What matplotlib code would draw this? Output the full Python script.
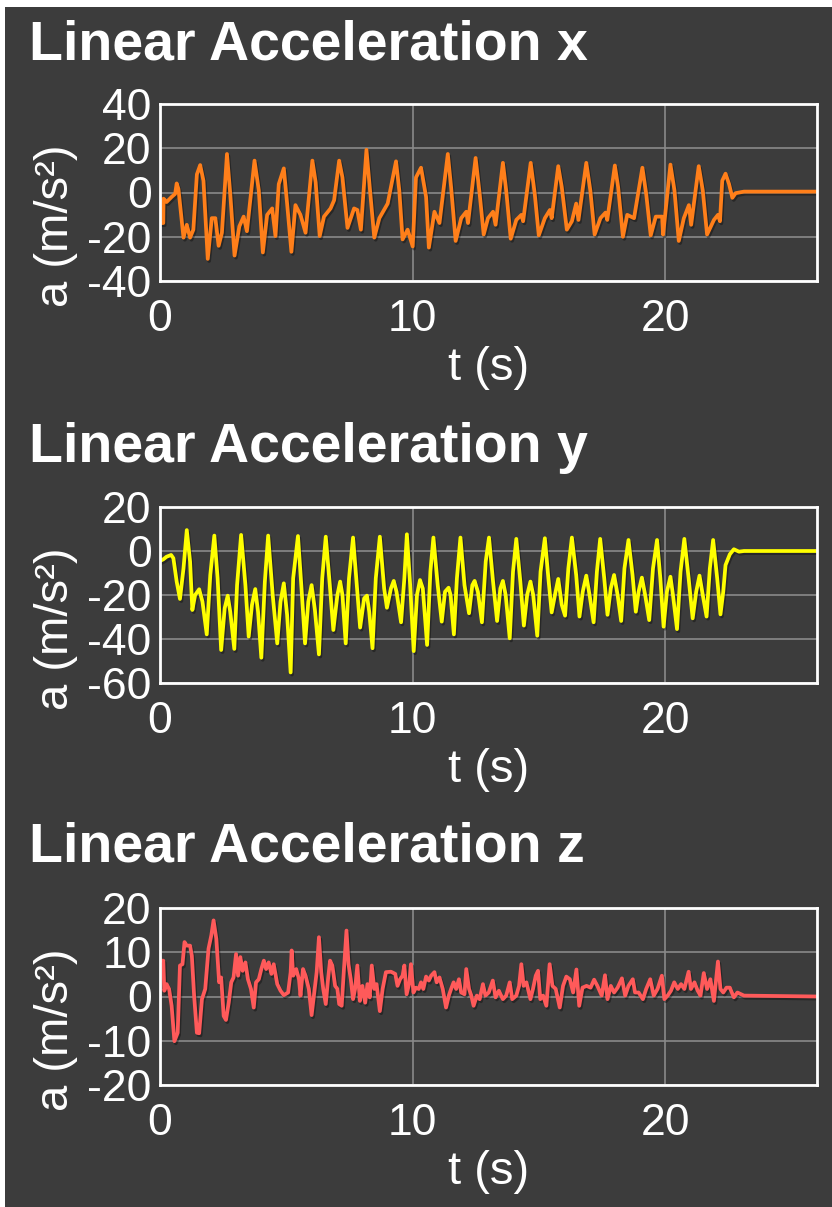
import matplotlib
matplotlib.use("Agg")
import matplotlib.pyplot as plt
import matplotlib.patheffects as pe
from matplotlib.patches import Rectangle

# values, (t in s, a in m/s^2)
t_x = [0, 0.13, 0.14, 0.26, 0.46, 0.6, 0.66, 0.73, 0.93, 1.06, 1.19, 1.32, 1.46, 1.59, 1.72, 1.89,
       2.05, 2.19, 2.32, 2.45, 2.65, 2.78, 2.95, 3.14, 3.31, 3.44, 3.74, 3.91, 4.07, 4.24, 4.44, 4.57,
       4.7, 4.9, 5.03, 5.2, 5.36, 5.56, 5.76, 6.03, 6.16, 6.32, 6.49, 6.75, 6.89, 7.09, 7.22, 7.42,
       7.68, 7.81, 7.95, 8.17, 8.3, 8.48, 8.68, 9.01, 9.34, 9.47, 9.6, 9.8, 10.0, 10.13, 10.33, 10.53,
       10.64, 10.86, 11.06, 11.39, 11.52, 11.7, 11.92, 12.12, 12.19, 12.49, 12.65, 12.81, 12.98, 13.18,
       13.28, 13.57, 13.7, 13.88, 14.1, 14.3, 14.37, 14.67, 14.83, 14.99, 15.23, 15.43, 15.5, 15.76,
       15.9, 16.1, 16.3, 16.47, 16.56, 16.87, 17.03, 17.2, 17.43, 17.63, 17.7, 18.0, 18.13, 18.32,
       18.49, 18.76, 19.09, 19.24, 19.42, 19.62, 19.87, 19.91, 20.2, 20.36, 20.53, 20.73, 20.93, 21.02,
       21.32, 21.48, 21.65, 21.92, 22.08, 22.16, 22.25, 22.38, 22.52, 22.65, 22.78, 23.11, 26.0]
a_x = [-13.8, -13.8, -2.8, -4.3, -2, -0.6, 4.1, 1.6, -20.4, -14.6, -20.4, -16.8, 8.2, 12.4, 5.3, -30,
       -11.6, -11.6, -24.1, -18.2, 17.4, -0.6, -28.5, -15.3, -10.9, -17.5, 14.4, 0.9, -27.1, -10.1, -7.2, -19.7,
       3.8, 10.9, -5, -26.8, -5.7, -10.1, -18.2, 14.4, 4.6, -19.7, -10.9, -7.2, -3.5, 14.4, 6.8, -16,
       -7.2, -7.9, -16.8, 19.3, 2.4, -20.4, -11.6, -5, 14.1, 0.9, -21.2, -16.8, -24.4, 6.8, 11.2, -2,
       -24.9, -8.7, -13.8, 17.4, 2.4, -21.9, -11.6, -8.7, -13.8, 15.6, -0.6, -19, -11.6, -8.7,
       -14.6, 13.4, 0.9, -20.9, -12.4, -10.1, -13, 13.4, -0.6, -19.4, -11.6, -7.9, -11.6, 11.9,
       2.4, -16.8, -13, -5, -12.4, 13.4, 0.9, -19, -11.6, -9.1, -12.4, 12.2, 2.4, -20,
       -10.1, -11.6, 11.2, -0.6, -19.4, -10.9, -10.9, -19, 12.6, 0.9, -21.9, -11.6, -5.7, -14.6,
       11.9, 0.9, -19, -12.4, -10.1, -13, 5.3, 8.5, 3.8, -2.4, -0.3, 0.4, 0.4]

t_y = [0, 0.13, 0.26, 0.44, 0.53, 0.66, 0.79, 0.93, 1.06, 1.19, 1.28, 1.39, 1.55, 1.68, 1.85, 1.99,
       2.15, 2.28, 2.42, 2.56, 2.68, 2.78, 2.94, 3.05, 3.21, 3.38, 3.51, 3.64, 3.77, 3.88, 4.01, 4.15,
       4.28, 4.46, 4.64, 4.77, 4.9, 5.03, 5.17, 5.27, 5.46, 5.6, 5.74, 5.87, 6.0, 6.13, 6.29, 6.42,
       6.56, 6.72, 6.86, 7.02, 7.13, 7.22, 7.35, 7.48, 7.64, 7.79, 7.92, 8.08, 8.19, 8.28, 8.41, 8.54,
       8.7, 8.87, 8.98, 9.14, 9.25, 9.36, 9.54, 9.67, 9.77, 9.9, 10.04, 10.17, 10.29, 10.4, 10.57, 10.7,
       10.82, 10.99, 11.15, 11.28, 11.42, 11.5, 11.63, 11.75, 11.89, 12.05, 12.23, 12.36, 12.45, 12.58,
       12.74, 12.89, 13.02, 13.18, 13.34, 13.47, 13.57, 13.68, 13.84, 13.97, 14.1, 14.26, 14.4, 14.53,
       14.66, 14.77, 14.93, 15.06, 15.23, 15.37, 15.5, 15.63, 15.76, 15.9, 16.03, 16.16, 16.3, 16.47,
       16.6, 16.73, 16.87, 17.0, 17.16, 17.29, 17.42, 17.58, 17.71, 17.84, 17.97, 18.11, 18.25, 18.38,
       18.54, 18.7, 18.83, 18.94, 19.07, 19.2, 19.36, 19.51, 19.67, 19.8, 19.93, 20.06, 20.2, 20.3,
       20.46, 20.6, 20.75, 20.92, 21.08, 21.22, 21.35, 21.48, 21.63, 21.76, 21.89, 22.05, 22.18, 22.29,
       22.38, 22.55, 22.71, 22.91, 23.11, 26.0]
a_y = [-4.5, -3.8, -2.6, -1.8, -3.3, -13.9, -21.8, -7.9, 9.5, -4.8, -26.8, -20, -17.4, -23, -37.9, -10.9,
       7, -12.4, -45, -26, -20.3, -27.6, -44.5, -15.5, 7.3, -15.5, -38.9, -24.5, -17.3, -27.6, -48.5, -13.9,
       7, -20, -42, -23, -14.7, -29, -55.2, -12.4, 6.8, -17, -42, -23, -15.5, -26.8, -47, -12.4,
       6.5, -15.5, -35.9, -20, -13.9, -20, -42, -12.4, 6.1, -15.5, -34.8, -21.5, -20.3, -27.6, -44.2, -12.4,
       6.5, -17, -25.8, -17, -13.6, -18.5, -32.4, -12.4, 7.6, -15.5, -45.5, -20, -13.2, -17, -42.7, -9.4,
       6.1, -15.5, -32.1, -18.5, -16.7, -20, -37.9, -12.4, 6.1, -15.5, -28.3, -15.5, -13.6, -18.5,
       -32.4, -4.8, 6.1, -13.9, -31.8, -17, -13.6, -20, -39.7, -9.4, 5.5, -13.9, -33.9, -20,
       -13.9, -20, -38.5, -9.4, 5.8, -12.4, -27.9, -20, -12.7, -24.5, -29.4, -7.9, 6.1, -10.9,
       -29.8, -18.5, -11.2, -20, -32.4, -9.4, 5.5, -12.4, -29, -17, -10.9, -20, -31.8, -7.9,
       5, -10.9, -27.6, -18.5, -12.1, -20, -31.4, -7.9, 5, -12.4, -34.4, -18.5, -11.7, -20,
       -35.5, -9.4, 5.5, -12.4, -30.6, -18.5, -11.2, -20, -29.8, -7.9, 5, -12.4, -28.8, -18.5,
       -6.4, -1.5, 0.8, -0.3, 0, 0]

t_z = [0, 0.13, 0.17, 0.26, 0.36, 0.46, 0.57, 0.7, 0.79, 0.89, 0.97, 1.06, 1.19, 1.26, 1.35, 1.46,
       1.55, 1.66, 1.79, 1.92, 2.03, 2.12, 2.23, 2.34, 2.42, 2.52, 2.61, 2.72, 2.82, 2.91, 3.01, 3.09,
       3.18, 3.27, 3.38, 3.48, 3.6, 3.71, 3.8, 3.91, 4.01, 4.11, 4.2, 4.3, 4.41, 4.5, 4.64, 4.77,
       4.9, 5.07, 5.17, 5.21, 5.27, 5.39, 5.5, 5.56, 5.66, 5.76, 5.89, 6.0, 6.12, 6.2, 6.29, 6.38,
       6.46, 6.56, 6.65, 6.73, 6.82, 6.93, 7.02, 7.09, 7.19, 7.28, 7.38, 7.46, 7.55, 7.64, 7.72, 7.81,
       7.91, 8.01, 8.12, 8.21, 8.3, 8.38, 8.48, 8.57, 8.7, 8.81, 8.94, 9.14, 9.31, 9.4, 9.5, 9.6,
       9.67, 9.76, 9.87, 9.93, 10.03, 10.13, 10.24, 10.33, 10.42, 10.53, 10.64, 10.73, 10.86, 10.95,
       11.06, 11.19, 11.32, 11.43, 11.52, 11.62, 11.72, 11.83, 11.92, 12.05, 12.12, 12.23, 12.32,
       12.41, 12.54, 12.65, 12.78, 12.88, 13.01, 13.17, 13.28, 13.41, 13.57, 13.7, 13.84, 13.94,
       14.1, 14.21, 14.3, 14.39, 14.5, 14.66, 14.76, 14.87, 14.96, 15.05, 15.16, 15.29, 15.42, 15.53,
       15.66, 15.82, 15.95, 16.08, 16.22, 16.35, 16.48, 16.59, 16.72, 16.88, 17.04, 17.18, 17.31,
       17.48, 17.61, 17.71, 17.84, 17.97, 18.11, 18.28, 18.41, 18.54, 18.71, 18.8, 18.94, 19.11,
       19.24, 19.4, 19.54, 19.69, 19.86, 19.96, 20.09, 20.22, 20.35, 20.49, 20.62, 20.75, 20.92,
       21.01, 21.15, 21.28, 21.39, 21.52, 21.65, 21.78, 21.92, 22.08, 22.18, 22.29, 22.42, 22.55,
       22.71, 22.85, 23.0, 23.11, 26.0]
a_z = [8.1, 8.1, 1.3, 2.8, 1.7, -2.1, -10.1, -8.2, 7, 7.3, 12.3, 11.5, 11.5, 9.2, 0.2, -8.2,
       -8.3, -0.6, 1.7, 10.8, 13.8, 17.2, 13, 3.2, 4.3, -4.4, -5.3, -1.4, 3.2, 4.3, 9.6, 4.7,
       8.9, 5.8, 7.7, 3.9, 1.7, -2.5, 3.2, 3.9, 6.2, 8.1, 6.2, 7.7, 5.1, 7.3, 2.8, 1.3,
       0.3, 0.9, 5.5, 10.4, 4.7, 6.2, 3.9, 0.2, 6.2, 4.7, 1.7, -4.2, 1.7, 5.5, 13.4, 5.5,
       1.7, -1.7, 3.9, 8.1, 7, 2.4, 1.7, -1.7, -2.1, 6.2, 14.9, 7.3, 3.9, -0.6, 1.7, 7,
       -1, 2.4, -1.4, 2.8, -0.2, 7, 1.7, 2.8, -3.3, 1.7, 5.5, 5.6, 5.1, 2.4, 3.9, 4.7,
       7, 0.5, 3.2, 7.3, 0.9, 2, 1.7, 3.2, 1.7, 4.5, 3.6, 4.7, 5.5, 3.2,
       4.3, 1.7, -2.5, 0.2, 1.7, 3.2, 1.7, 3.9, 0.9, 0.5, 6.2, 1.7, 0.2,
       -2.1, 0.2, -0.6, 2.8, 0.2, 0.9, 3.6, -0.2, 1.3, -0.6, 0.2, 3.2, -0.6,
       0.2, 2.4, 7.3, 2.4, 3.2, -0.6, 1.7, 4.7, 5.8, -0.6, 0.2, -2.1, 7.3, 2.4,
       1.7, -2.5, 2.4, 4.5, 3.9, 0.9, 6.1, -2.1, 2, 2.4, 2, 3.8, 2.4,
       0.2, 4.8, -0.6, 2.4, 0.9, 2, 4.1, 0.2, 2.4, 3.9, 0.9, 0.9, -0.6,
       1.7, 3.9, 0.2, 1.7, 4.7, -0.6, 0.2, 1.3, 3.2, 1.7, 2.8, 1.7, 5.6,
       1.7, 3.2, 1.3, 0.2, 5.3, 1.7, 3.9, -1, 7.9, 1.7, 0.9, 2, 2,
       -0.2, 0.9, 0.5, 0.2, 0]

titles = ["Linear Acceleration x", "Linear Acceleration y", "Linear Acceleration z"]
y_ticks = [[-40, -20, 0, 20, 40], [-60, -40, -20, 0, 20], [-20, -10, 0, 10, 20]]
x_ticks = [0, 10, 20]
colors = ["#ff7f1a", "#ffff00", "#ff5a5a"]

W, H = 832, 1207
bg = "#3c3c3c"
plt.rcParams['font.family'] = ['Liberation Sans', 'DejaVu Sans']
plt.rcParams['axes.unicode_minus'] = False

fig = plt.figure(figsize=(W / 100, H / 100), dpi=100, facecolor="white")
fig.patches.append(Rectangle((5 / W, 0), 1, (H - 7) / H, transform=fig.transFigure,
                             facecolor=bg, edgecolor="none", zorder=-1))

# axes boxes in pixels: left, top, right, bottom
boxes = [(160, 104, 817, 281), (160, 507, 817, 683), (160, 908, 817, 1085)]
title_base = [60, 462, 862]
series = [(t_x, a_x), (t_y, a_y), (t_z, a_z)]

for i in range(3):
    l, t, r, b = boxes[i]
    ax = fig.add_axes([l / W, 1 - b / H, (r - l) / W, (b - t) / H])
    ax.set_facecolor(bg)
    tt, aa = series[i]
    ax.plot(tt, aa, color=colors[i], lw=2.7, solid_joinstyle="round",
            path_effects=[pe.SimpleLineShadow(offset=(1, -1.5), alpha=0.35), pe.Normal()])
    ax.set_xlim(0, 26)
    ax.set_ylim(y_ticks[i][0], y_ticks[i][-1])
    ax.set_xticks(x_ticks)
    ax.set_yticks(y_ticks[i])
    ax.grid(True, color="#8a8a8a", lw=1.2)
    ax.set_axisbelow(True)
    for s in ax.spines.values():
        s.set_color("white")
        s.set_linewidth(2)
    ax.tick_params(length=0, labelsize=32, colors="white")
    ax.tick_params(axis="y", pad=6)
    ax.tick_params(axis="x", pad=13)
    ax.set_xlabel("t (s)", fontsize=34, color="white", labelpad=4)
    ax.set_ylabel("a (m/s²)", fontsize=34, color="white")
    ax.yaxis.set_label_coords(-0.125, 0.31)
    fig.text(29 / W, 1 - title_base[i] / H, titles[i], fontsize=40, fontweight="bold",
             color="white", ha="left", va="baseline")

fig.savefig("out.png", dpi=100, facecolor=fig.get_facecolor())
